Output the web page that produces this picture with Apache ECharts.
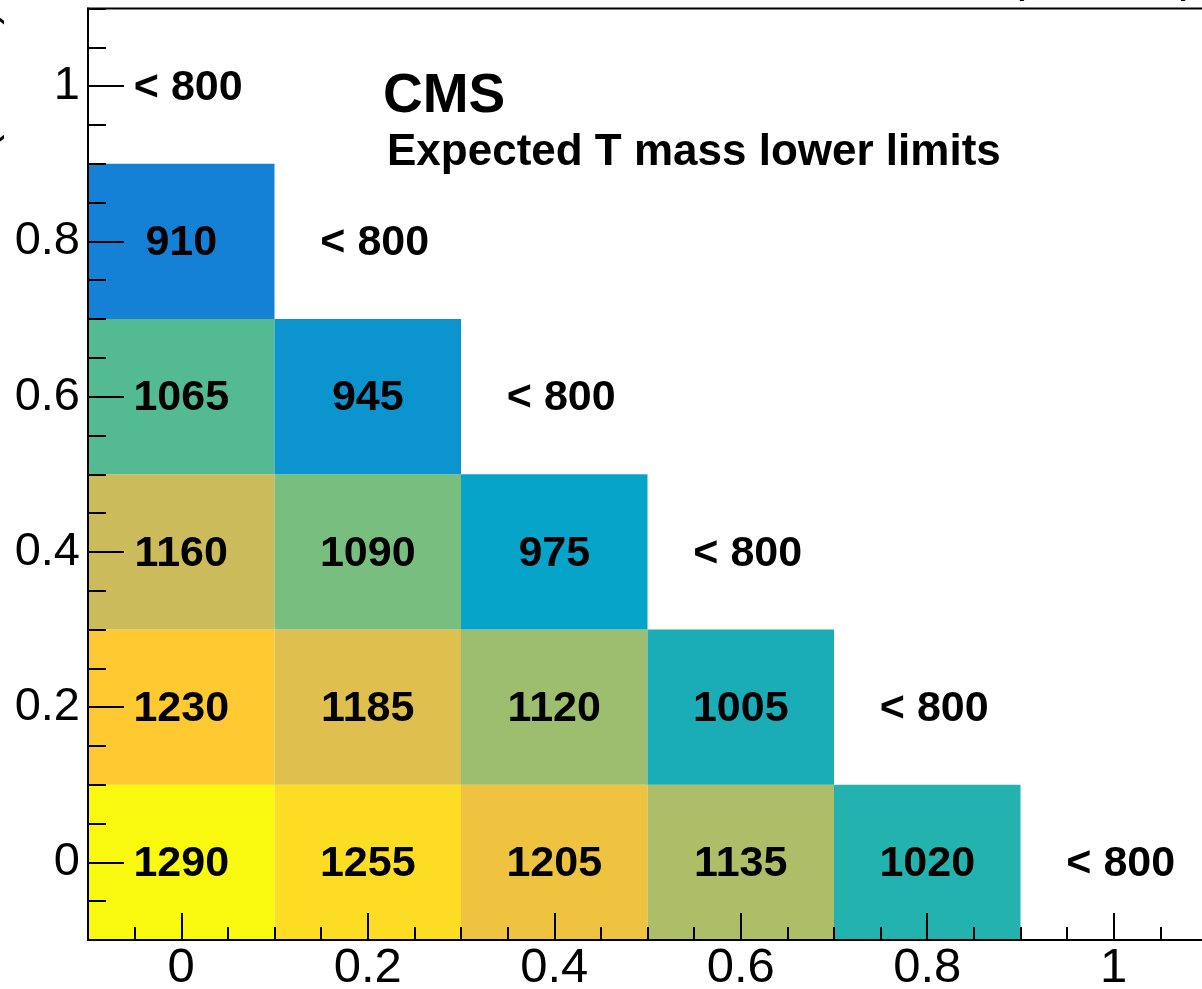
<!DOCTYPE html>
<html><head><meta charset="utf-8">
<script src="https://cdn.jsdelivr.net/npm/echarts@6/dist/echarts.min.js"></script>
<style>html,body{margin:0;padding:0;background:#fff;} #c{width:1202px;height:989px;}</style>
</head><body><div id="c"></div>
<script>
// Expected T mass lower limits (GeV) on the branching-fraction plane
const cellX = [0, 0.2, 0.4, 0.6, 0.8,  0, 0.2, 0.4, 0.6,  0, 0.2, 0.4,  0, 0.2,  0];
const cellY = [0, 0, 0, 0, 0,  0.2, 0.2, 0.2, 0.2,  0.4, 0.4, 0.4,  0.6, 0.6,  0.8];
const cellValue = [1290, 1255, 1205, 1135, 1020,  1230, 1185, 1120, 1005,  1160, 1090, 975,  1065, 945,  910];
const lowX = [1, 0.8, 0.6, 0.4, 0.2, 0];
const lowY = [0, 0.2, 0.4, 0.6, 0.8, 1];
const lowText = '< 800';
const xTicks = [0, 0.2, 0.4, 0.6, 0.8, 1];
const yTicks = [0, 0.2, 0.4, 0.6, 0.8, 1];
const titleText = 'CMS';
const subText = 'Expected T mass lower limits';
const yTitleText = 'ℬ(T→tZ)';
const lumiText = '138 fb⁻¹ (13 TeV)';

const birdColors = ['#352a87','#0f5cdd','#1481d6','#06a4ca','#2eb7a4','#87bf77','#d1bb59','#fec832','#f9fb0e'];
const FONT = '"Liberation Sans", Arial, Helvetica, sans-serif';

const cellData = cellValue.map((v, i) => [cellX[i], cellY[i], v]);
const lowData = lowX.map((x, i) => [x, lowY[i]]);

const chart = echarts.init(document.getElementById('c'), null, {renderer: 'canvas'});

function majorAxis(ticks, pos, tickLen, margin, fs) {
  return {
    type: 'value', min: -0.1, max: 1.1, position: pos, z: 10,
    axisLine: {show: true, onZero: false, lineStyle: {color: '#000', width: 2}},
    axisTick: {show: true, inside: true, length: tickLen, customValues: ticks, lineStyle: {color: '#000', width: 2}},
    axisLabel: {show: true, customValues: ticks, color: '#000', fontSize: fs, fontFamily: FONT, margin: margin},
    splitLine: {show: false}
  };
}
function minorAxis(pos, tickLen) {
  return {
    type: 'value', min: -0.1, max: 1.1, interval: 0.05, position: pos, z: 10,
    axisLine: {show: false, onZero: false},
    axisTick: {show: true, inside: true, length: tickLen, lineStyle: {color: '#000', width: 2}},
    axisLabel: {show: false},
    splitLine: {show: false}
  };
}

chart.setOption({
  animation: false,
  backgroundColor: '#fff',
  grid: {left: 88, top: 8.5, width: 1119, height: 931.5, show: true, borderColor: '#000', borderWidth: 2, backgroundColor: 'transparent', containLabel: false, outerBoundsMode: 'none'},
  xAxis: [majorAxis(xTicks, 'bottom', 27, 4, 49), minorAxis('bottom', 13)],
  yAxis: [majorAxis(yTicks, 'left', 36, 8, 47), minorAxis('left', 18)],
  visualMap: {show: false, type: 'continuous', min: 783, max: 1292, dimension: 2, seriesIndex: 0, inRange: {color: birdColors}},
  series: [
    {
      type: 'custom', xAxisIndex: 0, yAxisIndex: 0, data: cellData,
      encode: {x: 0, y: 1},
      renderItem: function (params, api) {
        const x = api.value(0), y = api.value(1);
        const p1 = api.coord([x - 0.1, y + 0.1]);
        const p2 = api.coord([x + 0.1, y - 0.1]);
        const c = api.coord([x, y]);
        return {
          type: 'group',
          children: [
            {type: 'rect', shape: {x: p1[0], y: p1[1], width: p2[0] - p1[0], height: p2[1] - p1[1]}, style: {fill: api.visual('color')}},
            {type: 'text', x: c[0], y: c[1] + 2, style: {text: String(api.value(2)), fill: '#000', font: 'bold 43px ' + FONT, align: 'center', verticalAlign: 'middle'}}
          ]
        };
      }
    },
    {
      type: 'custom', xAxisIndex: 0, yAxisIndex: 0, data: lowData,
      encode: {x: 0, y: 1}, z: 3,
      renderItem: function (params, api) {
        const c = api.coord([api.value(0), api.value(1)]);
        return {type: 'text', x: c[0] + 7, y: c[1] + 2, style: {text: lowText, fill: '#000', font: 'bold 43px ' + FONT, align: 'center', verticalAlign: 'middle'}};
      }
    }
  ],
  graphic: [
    {type: 'text', left: 383, top: 69, z: 20, style: {text: titleText, fill: '#000', font: 'bold 55px ' + FONT}},
    {type: 'text', left: 387, top: 131, z: 20, style: {text: subText, fill: '#000', font: 'bold 44px ' + FONT}},
    {type: 'text', x: -17, y: 10, rotation: Math.PI / 2, z: 20, style: {text: yTitleText, fill: '#000', font: '44px ' + FONT, align: 'right', verticalAlign: 'middle'}},
    {type: 'text', x: 1197, y: -23, z: 20, style: {text: lumiText, fill: '#000', font: '50px ' + FONT, align: 'right', verticalAlign: 'middle'}}
  ]
});
</script>
</body></html>
